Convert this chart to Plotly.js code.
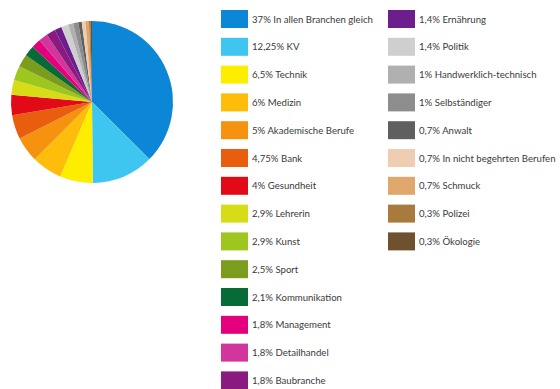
<!DOCTYPE html>
<html>
<head>
<meta charset="utf-8">
<script src="https://cdn.plot.ly/plotly-3.0.1.min.js"></script>
<style>html,body{margin:0;padding:0;background:#fff;}#chart{width:560px;height:389px;}</style>
</head>
<body>
<div id="chart"></div>
<script>
const labels = [
  "37% In allen Branchen gleich", "12,25% KV", "6,5% Technik", "6% Medizin",
  "5% Akademische Berufe", "4,75% Bank", "4% Gesundheit", "2,9% Lehrerin",
  "2,9% Kunst", "2,5% Sport", "2,1% Kommunikation", "1,8% Management",
  "1,8% Detailhandel", "1,8% Baubranche", "1,4% Ernährung", "1,4% Politik",
  "1% Handwerklich-technisch", "1% Selbständiger", "0,7% Anwalt",
  "0,7% In nicht begehrten Berufen", "0,7% Schmuck", "0,3% Polizei", "0,3% Ökologie"
];
const values = [37, 12.25, 6.5, 6, 5, 4.75, 4, 2.9, 2.9, 2.5, 2.1, 1.8, 1.8, 1.8, 1.4, 1.4, 1, 1, 0.7, 0.7, 0.7, 0.3, 0.3];
const colors = [
  "#0c86d6", "#3ec6f0", "#fdee00", "#fdbd0a", "#f5920f", "#e85e0e", "#e20a17",
  "#d6dc16", "#9dc71e", "#7b9c1c", "#076b38", "#e4007c", "#d2359c", "#8a1a80",
  "#6b1e8c", "#cfcfcf", "#b0b0b0", "#8d8d8d", "#5f5f5f", "#efcdb2", "#dfa76b",
  "#a87a3e", "#6f5130"
];

const W = 560, H = 389;
const rowsPerCol = 14;
const colX = [221, 388];
const rowY0 = 10, rowStep = 27.8, swW = 27, swH = 18;

const shapes = [], annotations = [];
labels.forEach((lab, i) => {
  const c = Math.floor(i / rowsPerCol), r = i % rowsPerCol;
  const x0 = colX[c], y0 = rowY0 + r * rowStep;
  shapes.push({
    type: "rect", xref: "paper", yref: "paper",
    x0: x0 / W, x1: (x0 + swW) / W,
    y0: 1 - (y0 + swH) / H, y1: 1 - y0 / H,
    fillcolor: colors[i], line: {width: 0}
  });
  annotations.push({
    xref: "paper", yref: "paper", x: (x0 + swW + 2) / W, y: 1 - (y0 + swH / 2) / H,
    xanchor: "left", yanchor: "middle", showarrow: false, text: lab,
    font: {family: "Lato, 'Open Sans', sans-serif", size: 9.6, color: "#3a3a3a"}
  });
});

const data = [{
  type: "pie", labels: labels, values: values, sort: false,
  direction: "clockwise", rotation: 0,
  marker: {colors: colors, line: {width: 0}},
  textinfo: "none", hoverinfo: "label",
  domain: {x: [11 / W, 173 / W], y: [1 - 183 / H, 1 - 21 / H]},
  showlegend: false
}];

const layout = {
  width: W, height: H, margin: {l: 0, r: 0, t: 0, b: 0},
  paper_bgcolor: "#fff", showlegend: false,
  shapes: shapes, annotations: annotations
};
Plotly.newPlot("chart", data, layout, {displayModeBar: false, staticPlot: true});
</script>
</body>
</html>
